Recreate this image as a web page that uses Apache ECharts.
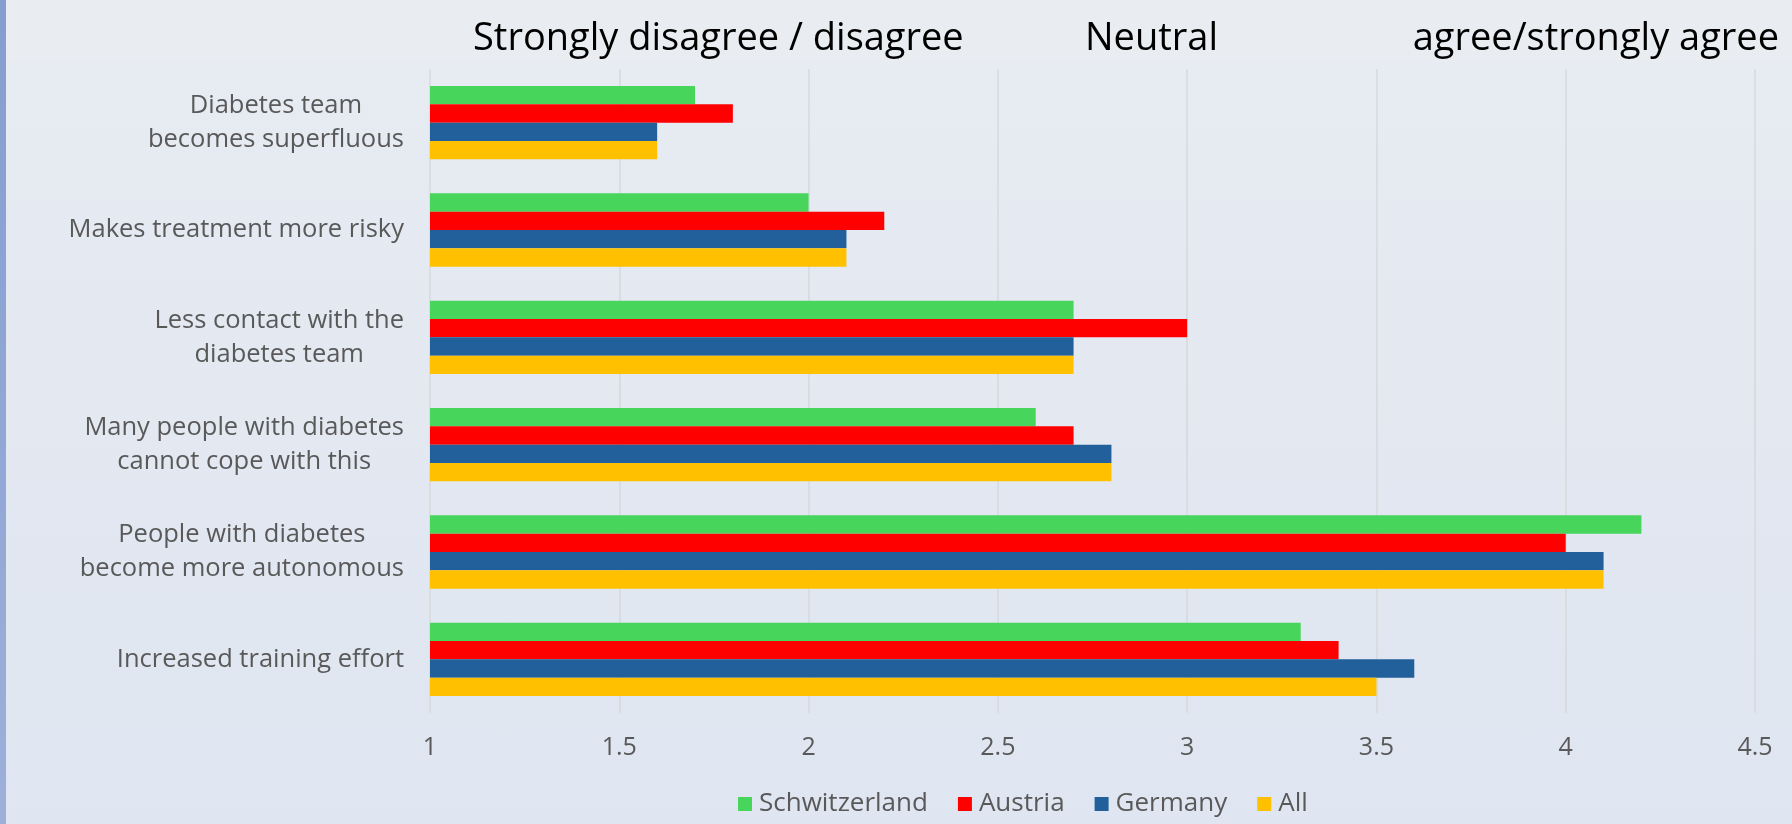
<!DOCTYPE html>
<html>
<head>
<meta charset="utf-8">
<script src="https://cdn.jsdelivr.net/npm/echarts@6/dist/echarts.min.js"></script>
<style>
  html, body { margin: 0; padding: 0; width: 1792px; height: 824px; overflow: hidden; }
  body {
    background: linear-gradient(180deg, #e9ecf1 0px, #e9ecf1 62px, #e7ebf2 63px, #e3e8f1 420px, #dfe6f1 824px);
  }
  #stripe {
    position: absolute; left: 0; top: 0; width: 6px; height: 824px;
    background: linear-gradient(180deg, #869dd0 0%, #9cb0da 100%);
  }
  #chart { position: absolute; left: 0; top: 0; width: 1792px; height: 824px; }
</style>
</head>
<body>
<div id="stripe"></div>
<div id="chart"></div>
<script>
// Survey statements (top to bottom)
const statements = [
  'Diabetes team\nbecomes superfluous',
  'Makes treatment more risky',
  'Less contact with the\ndiabetes team',
  'Many people with diabetes\ncannot cope with this',
  'People with diabetes\nbecome more autonomous',
  'Increased training effort'
];

// Mean agreement score per country, one value per statement
const schwitzerland = [1.7, 2.0, 2.7, 2.6, 4.2, 3.3];
const austria       = [1.8, 2.2, 3.0, 2.7, 4.0, 3.4];
const germany       = [1.6, 2.1, 2.7, 2.8, 4.1, 3.6];
const allCountries  = [1.6, 2.1, 2.7, 2.8, 4.1, 3.5];

const seriesNames  = ['Schwitzerland', 'Austria', 'Germany', 'All'];
const seriesColors = ['#48d55c', '#ff0000', '#21609b', '#ffc000'];

// Scale headings above the plot
const scaleHeadings = ['Strongly disagree / disagree', 'Neutral', 'agree/strongly agree'];

const FONT = '"Open Sans", "Noto Sans", sans-serif';
const GREY = '#595959';

const chart = echarts.init(document.getElementById('chart'), null, { renderer: 'canvas' });

const dataSets = [schwitzerland, austria, germany, allCountries];

chart.setOption({
  backgroundColor: 'transparent',
  animation: false,
  textStyle: { fontFamily: FONT },
  grid: { left: 430, right: 37, top: 69, bottom: 111, containLabel: false },
  xAxis: {
    type: 'value',
    min: 1,
    max: 4.5,
    interval: 0.5,
    axisLine: { show: false },
    axisTick: { show: false },
    axisLabel: { color: GREY, fontSize: 25, fontFamily: FONT, margin: 22 },
    splitLine: { show: true, lineStyle: { color: '#d6d8db', width: 1.5 } }
  },
  yAxis: {
    type: 'category',
    inverse: true,
    data: statements,
    axisLine: { show: false },
    axisTick: { show: false },
    axisLabel: {
      margin: 26,
      align: 'right',
      formatter: v => v.split('\n').map(line => '{c|' + line + '}').join('\n'),
      rich: {
        c: { align: 'center', color: GREY, fontSize: 25.5, lineHeight: 34, fontFamily: FONT }
      }
    }
  },
  legend: {
    data: seriesNames,
    left: 733,
    top: 786,
    itemWidth: 14,
    itemHeight: 14,
    itemGap: 30,
    icon: 'rect',
    textStyle: { color: GREY, fontSize: 26, fontFamily: FONT, padding: [0, 0, 0, 2] }
  },
  graphic: [
    { type: 'text', left: 473, top: 20, style: { text: scaleHeadings[0], fill: '#000', font: '38px ' + FONT } },
    { type: 'text', left: 1085, top: 20, style: { text: scaleHeadings[1], fill: '#000', font: '38px ' + FONT } },
    { type: 'text', right: 13, top: 20, style: { text: scaleHeadings[2], fill: '#000', font: '38px ' + FONT } }
  ],
  series: seriesNames.map((name, i) => ({
    name,
    type: 'bar',
    data: dataSets[i],
    barGap: '0%',
    barCategoryGap: '31.7%',
    itemStyle: { color: seriesColors[i] }
  }))
});
</script>
</body>
</html>
